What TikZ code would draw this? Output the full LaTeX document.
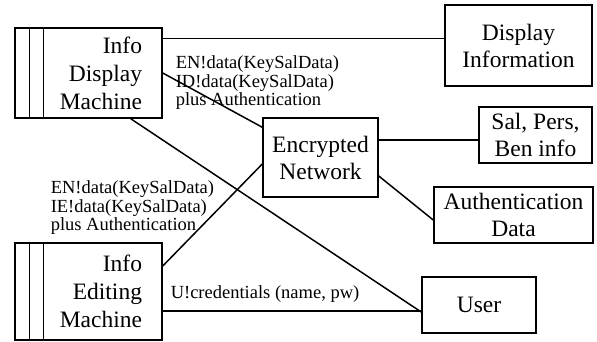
\documentclass[tikz,border=0pt]{standalone}
\usepackage{fontspec}
\setmainfont{Liberation Serif}
\begin{document}
\begin{tikzpicture}[x=1pt,y=-1pt, line width=1.5pt,
  box/.style={draw, rectangle, inner sep=0pt, align=center, font=\fontsize{23.5}{27}\selectfont},
  machine/.style={box, align=right, text width=107pt, inner xsep=20pt, font=\fontsize{23.5}{28}\selectfont},
  lbl/.style={inner sep=0pt, align=left, anchor=north west, font=\fontsize{18.5}{18.5}\selectfont}]
\useasboundingbox (0,0) rectangle (597,341);
% boxes
\node[machine, minimum width=147pt, minimum height=90pt] (IDM) at (88.5,73) {Info\\Display\\Machine};
\node[machine, minimum width=147pt, minimum height=97pt] (IEM) at (88.5,291.5) {Info\\Editing\\Machine};
\node[box, minimum width=147pt, minimum height=81pt] (DI) at (518.5,45.5) {Display\\Information};
\node[box, minimum width=113pt, minimum height=56pt] (SPB) at (535.5,135) {Sal, Pers,\\Ben info};
\node[box, minimum width=115pt, minimum height=79pt] (EN) at (320.5,157.5) {Encrypted\\Network};
\node[box, minimum width=159pt, minimum height=56pt] (AD) at (513.5,215) {Authentication\\Data};
\node[box, minimum width=114pt, minimum height=56pt] (U) at (479,305) {User};
% side bars of machines
\foreach \m in {IDM,IEM}{
  \draw ([xshift=15pt]\m.north west) -- ([xshift=15pt]\m.south west);
  \draw ([xshift=29pt]\m.north west) -- ([xshift=29pt]\m.south west);
}
% connectors
\coordinate (a1) at ([yshift=-11pt]IDM.north east);
\draw (a1) -- (a1 -| DI.west);
\draw (IDM.east) -- ([yshift=-10pt]EN.north west);
\draw ([xshift=-32pt]IDM.south east) -- ([yshift=-7pt]U.west);
\draw ([yshift=25.5pt]IEM.east) -- ([yshift=-6.5pt]EN.west);
\coordinate (a5) at ([yshift=-6pt]U.west);
\draw (a5 -| IEM.east) -- (a5);
\coordinate (a6) at ([yshift=17.5pt]EN.east);
\draw (a6) -- (a6 -| SPB.west);
\draw ([yshift=-18.5pt]EN.east) -- ([yshift=-5pt]AD.west);
% labels
\node[lbl] (l1) at (175,55) {EN!data(KeySalData)\\ID!data(KeySalData)\\plus Authentication};
\node[lbl] (l2) at (50,180) {EN!data(KeySalData)\\IE!data(KeySalData)\\plus Authentication};
\node[lbl, anchor=base west] (l3) at (170,298) {U!credentials (name, pw)};
\end{tikzpicture}
\end{document}
